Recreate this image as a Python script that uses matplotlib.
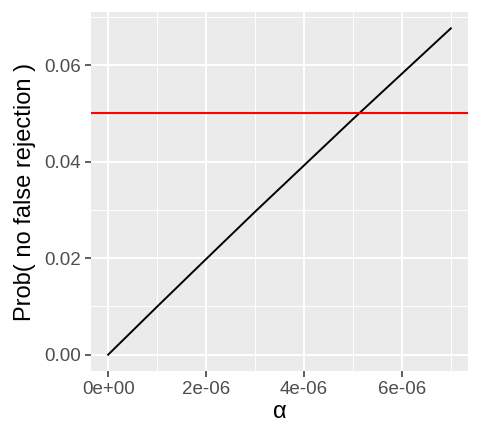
import numpy as np
import matplotlib
matplotlib.use('Agg')
import matplotlib.pyplot as plt
from matplotlib.ticker import MultipleLocator

alpha = [0.0, 1e-6, 2e-6, 3e-6, 4e-6, 5e-6, 6e-6, 7e-6]
prob = [0.0, 0.00995, 0.0198, 0.0296, 0.0392, 0.0488, 0.0582, 0.0676]
threshold = 0.05

x_ticks = [0, 2e-6, 4e-6, 6e-6]
x_labels = ['0e+00', '2e-06', '4e-06', '6e-06']
y_ticks = [0.0, 0.02, 0.04, 0.06]
y_labels = ['0.00', '0.02', '0.04', '0.06']

plt.rcParams['font.family'] = ['Liberation Sans', 'DejaVu Sans']

fig = plt.figure(figsize=(4.8, 4.4), dpi=100)
ax = fig.add_axes([0.1896, 0.1568, 0.7854, 0.8159])
ax.set_facecolor('#EBEBEB')

ax.plot(alpha, prob, color='black', lw=1.4, zorder=3)
ax.axhline(threshold, color='#FF0000', lw=1.5, zorder=3)

xr = max(alpha) - min(alpha)
ax.set_xlim(min(alpha) - 0.05 * xr, max(alpha) + 0.05 * xr)
yr = max(prob) - min(prob)
ax.set_ylim(min(prob) - 0.05 * yr, max(prob) + 0.05 * yr)

ax.set_xticks(x_ticks)
ax.set_xticklabels(x_labels)
ax.set_yticks(y_ticks)
ax.set_yticklabels(y_labels)
ax.xaxis.set_minor_locator(MultipleLocator(1e-6))
ax.yaxis.set_minor_locator(MultipleLocator(0.01))

ax.grid(which='major', color='white', lw=1.4, zorder=0)
ax.grid(which='minor', color='white', lw=0.7, zorder=0)
ax.set_axisbelow(True)

for s in ax.spines.values():
    s.set_visible(False)

ax.tick_params(which='major', length=4, width=1.1, color='#333333',
               labelsize=13.5, labelcolor='#4D4D4D', pad=3)
ax.tick_params(which='minor', length=0)

ax.set_xlabel('α', fontsize=17, labelpad=2)
ax.set_ylabel('Prob( no false rejection )', fontsize=17, labelpad=6)

fig.savefig('out.png', dpi=100)
